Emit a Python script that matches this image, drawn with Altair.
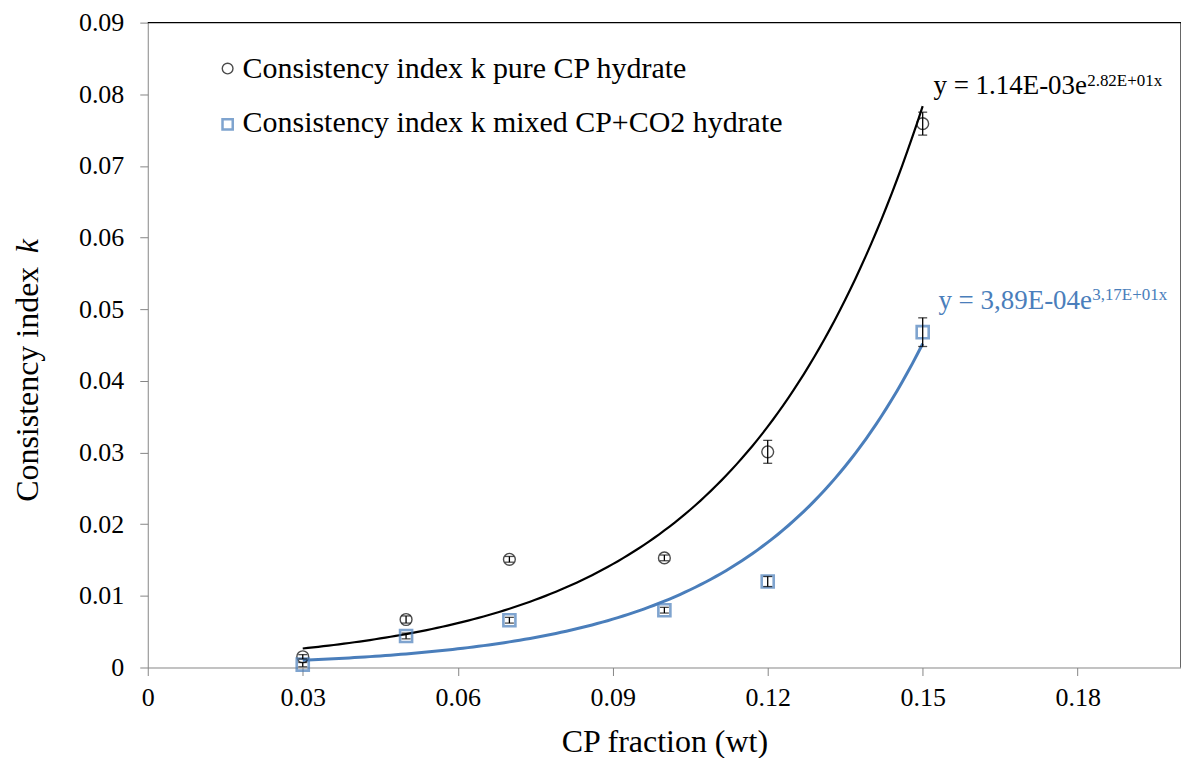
import altair as alt
import pandas as pd

# ---------------- data ----------------
cp_fraction = [0.03, 0.05, 0.07, 0.10, 0.12, 0.15]
k_pure = [0.0015, 0.0067, 0.0151, 0.0153, 0.0301, 0.0759]
err_pure = [0.0003, 0.0005, 0.0004, 0.0004, 0.0016, 0.0016]
k_mixed = [0.0004, 0.0044, 0.0066, 0.0080, 0.0120, 0.0468]
err_mixed = [0.0003, 0.0004, 0.0004, 0.0004, 0.0007, 0.0020]

series_names = ["Consistency index k pure CP hydrate",
                "Consistency index k mixed CP+CO2 hydrate"]
# exponential trend lines y = a * e^(b x), as printed on the chart
fit_a = [1.14e-3, 3.89e-4]
fit_b = [28.2, 31.7]
fit_range = [0.03, 0.15]
fit_main = ["y = 1.14E-03e", "y = 3,89E-04e"]
fit_sup = ["2.82E+01x", "3,17E+01x"]

x_ticks = [0, 0.03, 0.06, 0.09, 0.12, 0.15, 0.18]
y_ticks = [0, 0.01, 0.02, 0.03, 0.04, 0.05, 0.06, 0.07, 0.08, 0.09]
x_domain = [0, 0.2]
y_domain = [0, 0.09]

x_title = "CP fraction (wt)"
y_title_main = "Consistency index"
y_title_k = "k"

# ---------------- styling ----------------
W, H = 1035, 646
TOP = 14
FONT = "Liberation Serif"
BLACK = "#000000"
BLUE = "#4A7EBB"
AXIS_GREY = "#868686"

rows = []
for i, x in enumerate(cp_fraction):
    rows.append({"x": x, "k": k_pure[i], "lo": k_pure[i] - err_pure[i],
                 "hi": k_pure[i] + err_pure[i], "series": series_names[0]})
    rows.append({"x": x, "k": k_mixed[i], "lo": k_mixed[i] - err_mixed[i],
                 "hi": k_mixed[i] + err_mixed[i], "series": series_names[1]})
df = pd.DataFrame(rows)
df_pure = df[df.series == series_names[0]]
df_mixed = df[df.series == series_names[1]]

fmt = "datum.value == 0 ? '0' : format(datum.value, '.2f')"
xscale = alt.Scale(domain=x_domain, nice=False, zero=False)
yscale = alt.Scale(domain=y_domain, nice=False)

x_axis = alt.Axis(values=x_ticks, labelExpr=fmt, grid=False,
                  domainColor=AXIS_GREY, tickColor=AXIS_GREY, tickSize=8,
                  labelFont=FONT, labelFontSize=26, labelColor=BLACK,
                  labelPadding=9, labelFlush=False,
                  titleFont=FONT, titleFontSize=32, titleFontWeight="normal",
                  titleColor=BLACK, titlePadding=16)
y_axis = alt.Axis(values=y_ticks, labelExpr=fmt, grid=False,
                  domainColor=AXIS_GREY, tickColor=AXIS_GREY, tickSize=8,
                  labelFont=FONT, labelFontSize=26, labelColor=BLACK,
                  labelPadding=16, labelFlush=False)

X = alt.X("x:Q", scale=xscale, axis=x_axis, title=x_title)
Y = alt.Y("k:Q", scale=yscale, axis=y_axis, title=None)

# trend curves via Vega sequence + calculate from printed coefficients
def curve(i, color, width):
    return (alt.Chart(alt.sequence(fit_range[0], fit_range[1] + 0.0005, 0.001, as_="x"))
            .transform_calculate(k=f"{fit_a[i]} * exp({fit_b[i]} * datum.x)")
            .mark_line(color=color, strokeWidth=width, clip=True)
            .encode(x=alt.X("x:Q", scale=xscale, axis=x_axis, title=x_title),
                    y=alt.Y("k:Q", scale=yscale, axis=y_axis, title=None)))

curve_pure = curve(0, BLACK, 2.2)
curve_mixed = curve(1, BLUE, 3)

pts_pure = alt.Chart(df_pure).mark_point(
    shape="circle", filled=False, size=140, color=BLACK, strokeWidth=1.4
).encode(x=X, y=Y)
pts_mixed = alt.Chart(df_mixed).mark_point(
    shape="square", filled=False, size=145, color=BLUE, strokeWidth=2.6
).encode(x=X, y=Y)

err_rule = alt.Chart(df).mark_rule(color=BLACK, strokeWidth=1.3).encode(
    x=X, y=alt.Y("lo:Q", scale=yscale, axis=y_axis, title=None), y2="hi:Q")
err_cap_lo = alt.Chart(df).mark_tick(color=BLACK, orient="horizontal", size=9, thickness=1.3).encode(
    x=X, y=alt.Y("lo:Q", scale=yscale, axis=y_axis, title=None))
err_cap_hi = alt.Chart(df).mark_tick(color=BLACK, orient="horizontal", size=9, thickness=1.3).encode(
    x=X, y=alt.Y("hi:Q", scale=yscale, axis=y_axis, title=None))

one = pd.DataFrame({"d": [0]})

frame_top = alt.Chart(one).mark_rule(color=BLACK, strokeWidth=1.2).encode(
    x=alt.value(0), x2=alt.value(W), y=alt.value(0))
frame_right = alt.Chart(one).mark_rule(color=BLACK, strokeWidth=1.2).encode(
    x=alt.value(W), y=alt.value(0), y2=alt.value(H))

def text(t, x, y, size, color=BLACK, **kw):
    return alt.Chart(pd.DataFrame({"t": [t]})).mark_text(
        font=FONT, fontSize=size, color=color, align="left",
        baseline="alphabetic", **kw
    ).encode(x=alt.value(x), y=alt.value(y - (TOP - 12)), text="t:N")

# legend (inside plot, top-left)
leg_circle = alt.Chart(one).mark_point(shape="circle", filled=False, size=115,
                                       color=BLACK, strokeWidth=1.4).encode(
    x=alt.value(80), y=alt.value(48 - (TOP - 12)))
leg_square = alt.Chart(one).mark_point(shape="square", filled=False, size=105,
                                       color=BLUE, strokeWidth=2.5).encode(
    x=alt.value(80), y=alt.value(104 - (TOP - 12)))
leg_t1 = text(series_names[0], 95, 57, 30)
leg_t2 = text(series_names[1], 95, 112, 30)

# equation labels
eq1a = text(fit_main[0], 787, 74, 27)
eq1b = text(fit_sup[0], 941, 65, 17)
eq2a = text(fit_main[1], 792, 289, 27, color=BLUE)
eq2b = text(fit_sup[1], 946, 280, 17, color=BLUE)

# y-axis title with italic k
yt1 = text(y_title_main, -110, 482, 32, angle=270)
yt2 = text(y_title_k, -110, 233, 32, angle=270, fontStyle="italic")

chart = alt.layer(
    curve_pure, curve_mixed, pts_pure, pts_mixed,
    err_rule, err_cap_lo, err_cap_hi,
    frame_top, frame_right,
    leg_circle, leg_square, leg_t1, leg_t2,
    eq1a, eq1b, eq2a, eq2b, yt1, yt2,
).properties(
    width=W, height=H,
    autosize=alt.AutoSizeParams(type="none"),
    padding={"left": 140, "top": TOP, "right": 0, "bottom": 90},
    background="white",
).configure_view(stroke="transparent")

chart.save("out.html", embed_options={"renderer": "svg", "actions": False})
